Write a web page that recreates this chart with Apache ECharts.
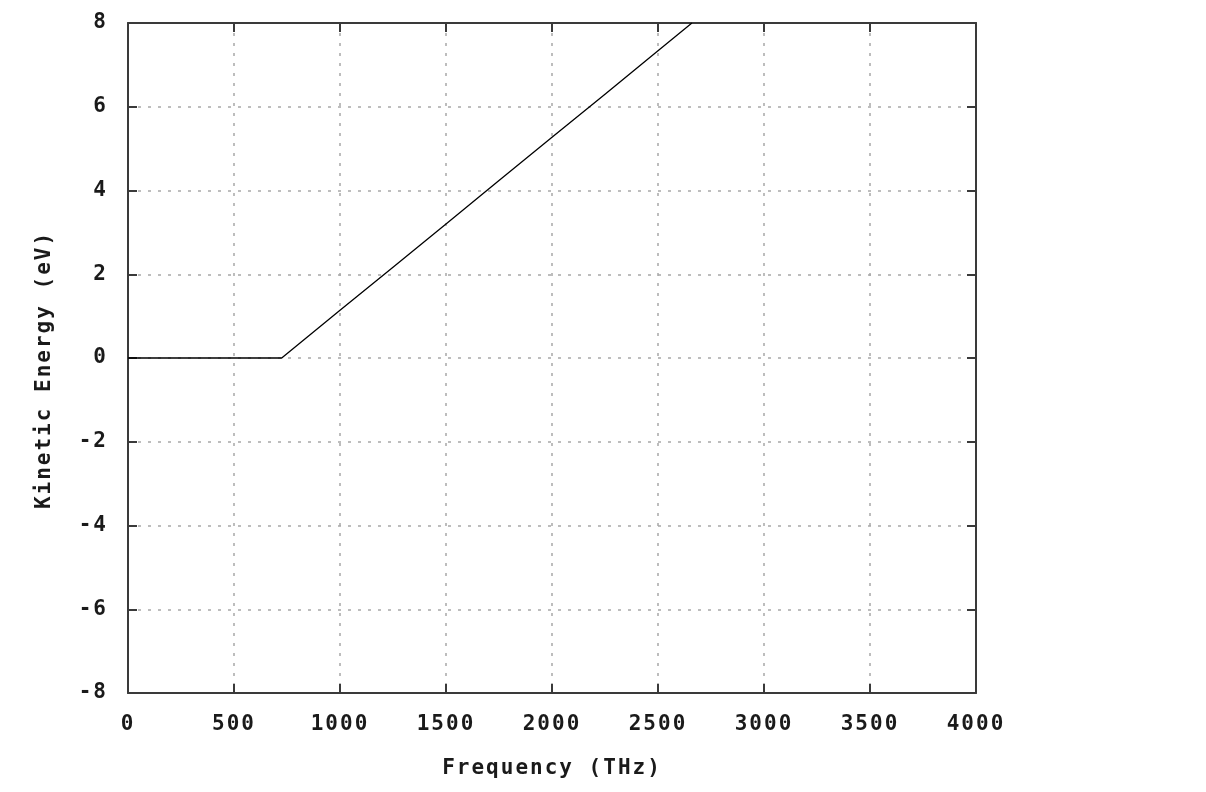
<!DOCTYPE html>
<html>
<head>
<meta charset="utf-8">
<style>
html,body{margin:0;padding:0;background:#fff;}
#chart{width:1206px;height:792px;}
</style>
<script src="https://cdn.jsdelivr.net/npm/echarts@6/dist/echarts.min.js"></script>
</head>
<body>
<div id="chart"></div>
<script>
// Data
const frequencyTHz = [0, 725, 1000, 1250, 1500, 1750, 2000, 2250, 2500, 2660];
const kineticEnergyEV = [0, 0, 1.14, 2.17, 3.2, 4.24, 5.27, 6.3, 7.34, 8];
const xTicks = [0, 500, 1000, 1500, 2000, 2500, 3000, 3500, 4000];
const yTicks = [-8, -6, -4, -2, 0, 2, 4, 6, 8];
const xTitle = 'Frequency (THz)';
const yTitle = 'Kinetic Energy (eV)';

// gnuplot-like wide character spacing for all canvas text
(function () {
  const P = CanvasRenderingContext2D.prototype;
  const fill = P.fillText, stroke = P.strokeText, measure = P.measureText;
  const LS = '2px';
  P.fillText = function () { this.letterSpacing = LS; return fill.apply(this, arguments); };
  P.strokeText = function () { this.letterSpacing = LS; return stroke.apply(this, arguments); };
  P.measureText = function () { this.letterSpacing = LS; return measure.apply(this, arguments); };
})();

const FONT = 'DejaVu Sans Mono';
const textStyle = {fontFamily: FONT, fontWeight: 'bold', fontSize: 21, color: '#1a1a1a'};
const axisLineStyle = {color: '#3a3a3a', width: 2};
const tickStyle = {color: '#3a3a3a', width: 2};
const gridLine = {show: true, lineStyle: {color: '#a8a8a8', width: 1.5, type: [3, 7]}};

const chart = echarts.init(document.getElementById('chart'), null, {renderer: 'canvas'});
const points = frequencyTHz.map((f, i) => [f, kineticEnergyEV[i]]);

chart.setOption({
  animation: false,
  backgroundColor: '#fff',
  grid: {left: 128, right: 230, top: 23, bottom: 99, containLabel: false},
  xAxis: [{
    type: 'value', min: xTicks[0], max: xTicks[xTicks.length - 1], interval: 500,
    position: 'bottom',
    name: xTitle, nameLocation: 'middle', nameGap: 64,
    nameTextStyle: textStyle,
    axisLine: {show: true, onZero: false, lineStyle: axisLineStyle},
    axisTick: {show: true, inside: true, length: 9, lineStyle: tickStyle},
    axisLabel: Object.assign({margin: 20, formatter: v => String(v)}, textStyle),
    splitLine: gridLine
  }, {
    type: 'value', min: xTicks[0], max: xTicks[xTicks.length - 1], interval: 500,
    position: 'top',
    axisLine: {show: true, onZero: false, lineStyle: axisLineStyle},
    axisTick: {show: true, inside: true, length: 9, lineStyle: tickStyle},
    axisLabel: {show: false},
    splitLine: {show: false}
  }],
  yAxis: [{
    type: 'value', min: yTicks[0], max: yTicks[yTicks.length - 1], interval: 2,
    position: 'left',
    name: yTitle, nameLocation: 'middle', nameGap: 72, nameRotate: 90,
    nameTextStyle: Object.assign({padding: [0, 24, 0, 0]}, textStyle),
    axisLine: {show: true, onZero: false, lineStyle: axisLineStyle},
    axisTick: {show: true, inside: true, length: 9, lineStyle: tickStyle},
    axisLabel: Object.assign({margin: 20, formatter: v => String(v)}, textStyle),
    splitLine: gridLine
  }, {
    type: 'value', min: yTicks[0], max: yTicks[yTicks.length - 1], interval: 2,
    position: 'right',
    axisLine: {show: true, onZero: false, lineStyle: axisLineStyle},
    axisTick: {show: true, inside: true, length: 9, lineStyle: tickStyle},
    axisLabel: {show: false},
    splitLine: {show: false}
  }],
  series: [{
    type: 'line',
    data: points,
    xAxisIndex: 0, yAxisIndex: 0,
    symbol: 'none',
    lineStyle: {color: '#000', width: 1.3},
    z: 5
  }]
});
</script>
</body>
</html>
